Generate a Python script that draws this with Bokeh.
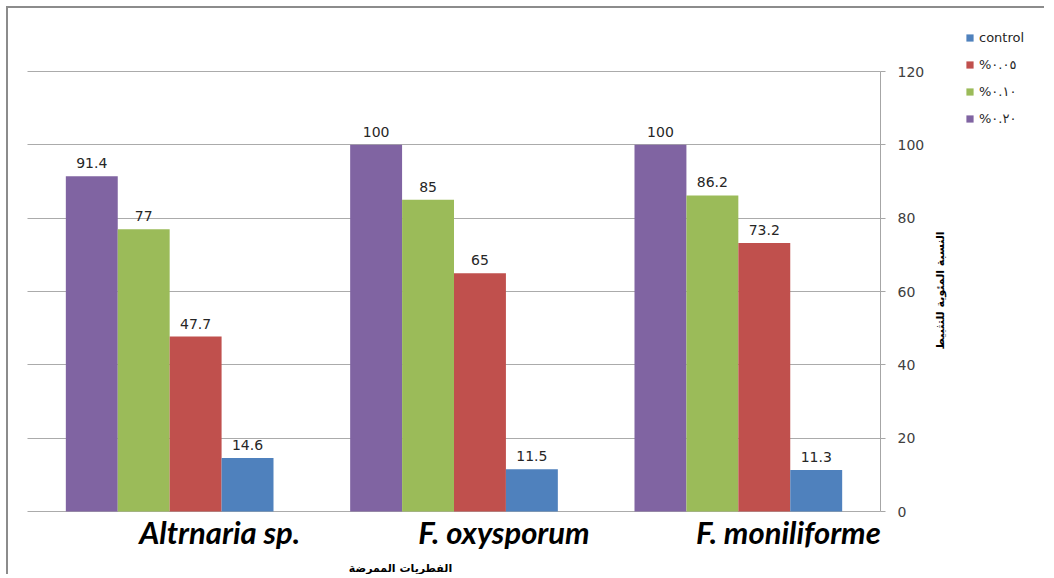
from bokeh.plotting import figure
from bokeh.models import (ColumnDataSource, Range1d, FixedTicker,
                          LabelSet, Label, Legend, LegendItem)
from bokeh.transform import dodge
from bokeh.core.properties import value
from bokeh.embed import file_html
from bokeh.resources import INLINE
import math

categories = ["Altrnaria sp.", "F. oxysporum", "F. moniliforme"]
control = [14.6, 11.5, 11.3]
conc_005 = [47.7, 65, 73.2]
conc_010 = [77, 85, 86.2]
conc_020 = [91.4, 100, 100]
series_names = ["control", "%٠.٠٥", "%٠.١٠", "%٠.٢٠"]
y_ticks = [0, 20, 40, 60, 80, 100, 120]
y_title = "النسبة المئوية للتثبيط"
x_title = "الفطريات الممرضة"

colors = {"control": "#4F81BD", "c005": "#C0504D", "c010": "#9BBB59", "c020": "#8064A2"}

# category slots: each category occupies one unit, centred on i + 0.5
pos = [i + 0.5 for i in range(len(categories))]
n_cat = len(categories)

src = ColumnDataSource(dict(
    cat=categories, pos=pos,
    control=control, c005=conc_005, c010=conc_010, c020=conc_020,
    control_t=[str(v) for v in control], c005_t=[str(v) for v in conc_005],
    c010_t=[str(v) for v in conc_010], c020_t=[str(v) for v in conc_020],
))

W, H = 1038, 568
px_x = 853 / n_cat          # pixels per category unit
px_y = 440 / 120            # pixels per value unit
left_px, top_px, bottom_px = 19, 63, 503
x_range = Range1d(-left_px / px_x, (W - left_px) / px_x)
y_range = Range1d(-(H - bottom_px) / px_y, 120 + top_px / px_y)

p = figure(x_range=x_range, y_range=y_range, width=W, height=H,
           output_backend="svg", toolbar_location=None, y_axis_location="right",
           min_border=0, min_border_left=0, min_border_right=0,
           min_border_top=0, min_border_bottom=0)
p.styles = {"margin-left": "6px", "margin-top": "6px",
            "border-left": "2px solid #8c8c8c", "border-top": "2px solid #8c8c8c"}
p.outline_line_color = None
p.xaxis.visible = False
p.xgrid.grid_line_color = None
p.ygrid.grid_line_color = "#ababab"
p.ygrid.ticker = FixedTicker(ticks=y_ticks)
p.ygrid.bounds = (0, 120)
p.ygrid.cross_bounds = (0, n_cat)

p.yaxis.fixed_location = n_cat
p.yaxis.bounds = (0, 120)
p.yaxis.ticker = FixedTicker(ticks=y_ticks)
p.yaxis.minor_tick_line_color = None
p.yaxis.major_tick_out = 5
p.yaxis.major_tick_in = 0
p.yaxis.axis_line_color = "#a6a6a6"
p.yaxis.major_tick_line_color = "#a6a6a6"
p.yaxis.major_label_text_font = "DejaVu Sans"
p.yaxis.major_label_text_font_size = "14px"
p.yaxis.major_label_text_color = "#404040"
p.yaxis.major_label_standoff = 12

w = 0.1826
order = [("c020", -1.5 * w), ("c010", -0.5 * w), ("c005", 0.5 * w), ("control", 1.5 * w)]
renderers = {}
for key, off in order:
    renderers[key] = p.vbar(x=dodge("pos", off), top=key, width=w,
                            source=src, fill_color=colors[key], line_color=None)
    p.add_layout(LabelSet(x=dodge("pos", off), y=key, text=key + "_t",
                          source=src, text_align="center", text_baseline="bottom",
                          y_offset=8, text_font=value("DejaVu Sans"),
                          text_font_size="14px", text_color="#262626"))

# category labels
p.add_layout(LabelSet(x="pos", y=0, text="cat", source=src, x_offset=50, y_offset=-20,
                      text_align="center", text_baseline="middle",
                      text_font=value("Lato"), text_font_style="bold italic",
                      text_font_size="31px", text_color="black"))

legend = Legend(items=[
    LegendItem(label=series_names[0], renderers=[renderers["control"]]),
    LegendItem(label=series_names[1], renderers=[renderers["c005"]]),
    LegendItem(label=series_names[2], renderers=[renderers["c010"]]),
    LegendItem(label=series_names[3], renderers=[renderers["c020"]]),
], location=(957, 448), padding=0, margin=0, border_line_color=None,
    background_fill_alpha=0, glyph_width=9, glyph_height=9, label_height=20,
    spacing=7, label_standoff=5, label_text_font="DejaVu Sans",
    label_text_font_size="13px", label_text_color="#262626")
p.add_layout(legend)

p.add_layout(Label(x=932, y=286, x_units="screen", y_units="screen", text=y_title,
                   angle=math.pi / 2, text_align="center", text_baseline="middle",
                   text_font="DejaVu Sans", text_font_style="bold", text_font_size="11px",
                   text_color="black"))
p.add_layout(Label(x=392, y=8, x_units="screen", y_units="screen", text=x_title,
                   text_align="center", text_baseline="middle",
                   text_font="DejaVu Sans", text_font_style="bold", text_font_size="11px",
                   text_color="black"))

open("out.html", "w").write(file_html(p, INLINE))
